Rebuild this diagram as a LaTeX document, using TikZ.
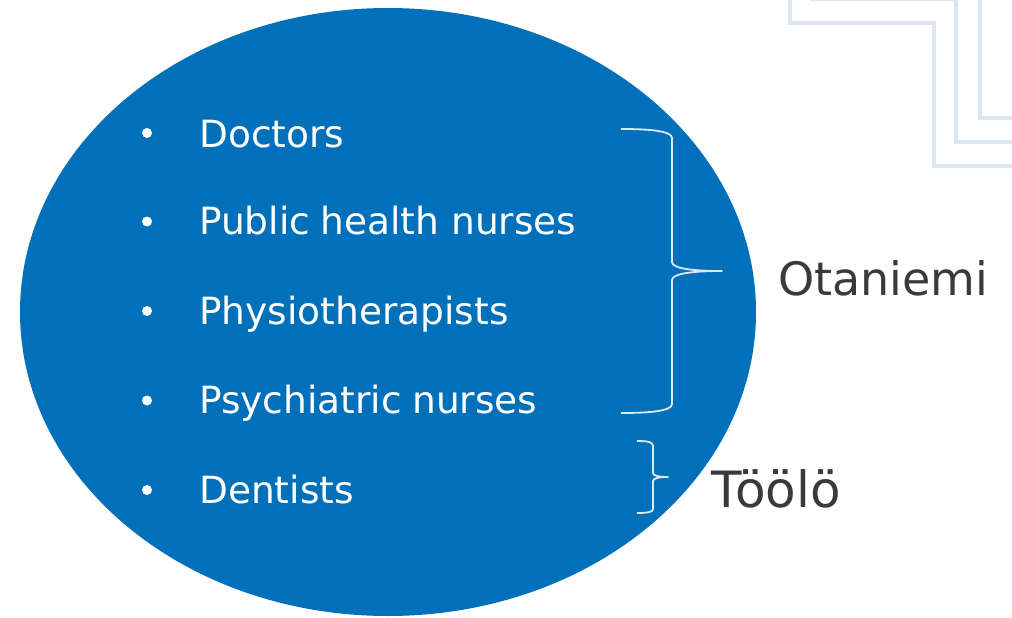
\documentclass[tikz,border=0pt]{standalone}
\usepackage{fontspec}
\setmainfont{DejaVu Sans}
\definecolor{ovalblue}{HTML}{0070BA}
\definecolor{deco}{HTML}{DCE5F2}
\definecolor{bracecol}{HTML}{DCE8F4}
\definecolor{labelgray}{HTML}{3A3A3A}
\tikzset{
  item/.style={anchor=base west, inner sep=0pt, text=white, font=\fontsize{37.5}{40}\selectfont},
  place/.style={anchor=base west, inner sep=0pt, text=labelgray, font=\fontsize{46}{50}\selectfont},
  bulletdot/.style={circle, fill=white, inner sep=0pt, minimum size=10pt},
  decoline/.style={draw=deco, line width=4pt},
  bracestyle/.style={draw=bracecol, line width=1.8pt, line join=round},
}
\begin{document}
\begin{tikzpicture}[x=1pt,y=-1pt]
\useasboundingbox (0,0) rectangle (1012,618);
\begin{scope}
\clip (0,0) rectangle (1012,618);
% decorative lines top right
\draw[decoline] (790,-10) -- (790,23) -- (934,23) -- (934,166) -- (1030,166);
\draw[decoline] (812,-10) -- (812,-0.5) -- (956,-0.5) -- (956,142) -- (1030,142);
\draw[decoline] (980,-10) -- (980,118) -- (1030,118);
\end{scope}
% oval
\fill[ovalblue] (388,312) ellipse [x radius=368pt, y radius=304pt];
% bullets
\node[bulletdot] (b1) at (147,133) {};
\node[bulletdot] (b2) at (147,221.5) {};
\node[bulletdot] (b3) at (147,311) {};
\node[bulletdot] (b4) at (147,400.5) {};
\node[bulletdot] (b5) at (147,490) {};
% items
\node[item] (t1) at (199,147) {Doctors};
\node[item] (t2) at (199,234.5) {Public\hspace{-1.5pt} health nurses};
\node[item] (t3) at (199,324) {Physiotherapists};
\node[item] (t4) at (199,413.5) {Psychiatric\hspace{-1.5pt} nurses};
\node[item] (t5) at (199,503) {Dentists};
% braces
\coordinate (o1) at (621,129);
\coordinate (otip) at (722,271);
\coordinate (o2) at (621,413);
\draw[bracestyle] (o1) .. controls (650,129) and (672,131) .. (672,138) -- (672,262)
  .. controls (672,268) and (690,271) .. (otip)
  .. controls (690,271) and (672,274) .. (672,280) -- (672,404)
  .. controls (672,411) and (650,413) .. (o2);
\coordinate (d1) at (637,441);
\coordinate (dtip) at (668,477);
\coordinate (d2) at (637,513);
\draw[bracestyle] (d1) .. controls (648,441) and (653,442) .. (653,446) -- (653,473)
  .. controls (653,476) and (660,477) .. (dtip)
  .. controls (660,477) and (653,478) .. (653,481) -- (653,509)
  .. controls (653,512) and (648,513) .. (d2);
% labels
\node[place] (otaniemi) at (778,295) {Otaniemi};
\node[place, font=\fontsize{50}{54}\selectfont] (toolo) at (711,507.5) {Töölö};
\end{tikzpicture}
\end{document}
